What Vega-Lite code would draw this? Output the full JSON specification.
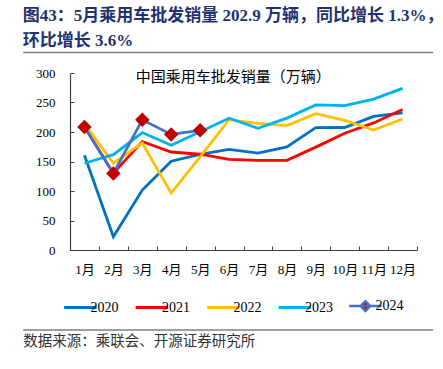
{
  "$schema": "https://vega.github.io/schema/vega-lite/v6.json",
  "padding": {"left": 22, "top": 7, "right": 11, "bottom": 4},
  "background": "white",
  "width": 347,
  "height": 177,
  "title": {"text": ["图43：5月乘用车批发销量 202.9 万辆，同比增长 1.3%，", "环比增长 3.6%"], "anchor": "start", "frame": "bounds", "font": "Liberation Serif, Noto Sans CJK SC", "fontSize": 17, "fontWeight": "bold", "color": "#1F3370", "lineHeight": 24.5, "offset": 2.5},
  "config": {"view": {"stroke": null}},
  "data": {"values": [
    {"year": "2020", "month": "1月", "value": 160.5}, {"year": "2020", "month": "2月", "value": 22.4}, {"year": "2020", "month": "3月", "value": 101.6}, {"year": "2020", "month": "4月", "value": 150.5}, {"year": "2020", "month": "5月", "value": 162.2}, {"year": "2020", "month": "6月", "value": 170.6}, {"year": "2020", "month": "7月", "value": 164.3}, {"year": "2020", "month": "8月", "value": 174.8}, {"year": "2020", "month": "9月", "value": 207.3}, {"year": "2020", "month": "10月", "value": 207.6}, {"year": "2020", "month": "11月", "value": 226.4}, {"year": "2020", "month": "12月", "value": 232.6},
    {"year": "2021", "month": "1月", "value": 208.9}, {"year": "2021", "month": "2月", "value": 130.0}, {"year": "2021", "month": "3月", "value": 183.8}, {"year": "2021", "month": "4月", "value": 166.1}, {"year": "2021", "month": "5月", "value": 162.3}, {"year": "2021", "month": "6月", "value": 153.6}, {"year": "2021", "month": "7月", "value": 151.8}, {"year": "2021", "month": "8月", "value": 152.0}, {"year": "2021", "month": "9月", "value": 174.4}, {"year": "2021", "month": "10月", "value": 198.0}, {"year": "2021", "month": "11月", "value": 215.4}, {"year": "2021", "month": "12月", "value": 238.0},
    {"year": "2022", "month": "1月", "value": 213.9}, {"year": "2022", "month": "2月", "value": 147.0}, {"year": "2022", "month": "3月", "value": 181.4}, {"year": "2022", "month": "4月", "value": 96.5}, {"year": "2022", "month": "5月", "value": 157.9}, {"year": "2022", "month": "6月", "value": 220.9}, {"year": "2022", "month": "7月", "value": 214.7}, {"year": "2022", "month": "8月", "value": 210.9}, {"year": "2022", "month": "9月", "value": 231.0}, {"year": "2022", "month": "10月", "value": 219.6}, {"year": "2022", "month": "11月", "value": 203.3}, {"year": "2022", "month": "12月", "value": 222.0},
    {"year": "2023", "month": "1月", "value": 147.0}, {"year": "2023", "month": "2月", "value": 161.6}, {"year": "2023", "month": "3月", "value": 199.0}, {"year": "2023", "month": "4月", "value": 177.6}, {"year": "2023", "month": "5月", "value": 200.3}, {"year": "2023", "month": "6月", "value": 223.4}, {"year": "2023", "month": "7月", "value": 206.4}, {"year": "2023", "month": "8月", "value": 223.5}, {"year": "2023", "month": "9月", "value": 245.9}, {"year": "2023", "month": "10月", "value": 244.6}, {"year": "2023", "month": "11月", "value": 255.7}, {"year": "2023", "month": "12月", "value": 274.0},
    {"year": "2024", "month": "1月", "value": 208.6}, {"year": "2024", "month": "2月", "value": 129.6}, {"year": "2024", "month": "3月", "value": 220.6}, {"year": "2024", "month": "4月", "value": 195.9}, {"year": "2024", "month": "5月", "value": 202.9}
  ]},
  "resolve": {"scale": {"x": "independent", "y": "independent"}, "axis": {"x": "independent", "y": "independent"}},
  "layer": [
    {
      "encoding": {
        "x": {"field": "month", "type": "ordinal", "sort": ["1月", "2月", "3月", "4月", "5月", "6月", "7月", "8月", "9月", "10月", "11月", "12月"], "bandPosition": 0.5,
              "scale": {"type": "band", "paddingInner": 0, "paddingOuter": 0},
              "axis": {"title": "数据来源：乘联会、开源证券研究所", "titleX": -47.3, "titleY": 91.5, "titleAlign": "left", "titleBaseline": "middle", "titleFont": "Noto Sans CJK SC", "titleFontSize": 14.5, "titleFontWeight": "normal", "titleColor": "#333333",
                       "labelAngle": 0, "tickBand": "extent", "tickSize": -4, "labelPadding": 17, "labelFont": "Liberation Serif, Noto Sans CJK SC", "labelFontSize": 13, "labelColor": "#000000", "domainColor": "#404040", "tickColor": "#404040", "domainWidth": 1.2, "grid": false}},
        "y": {"field": "value", "type": "quantitative", "scale": {"domain": [0, 300], "nice": false},
              "axis": {"title": "中国乘用车批发销量（万辆）", "titleAngle": 0, "titleX": 162.7, "titleY": 3.7, "titleAlign": "center", "titleBaseline": "middle", "titleFont": "Noto Sans CJK SC", "titleFontSize": 15, "titleFontWeight": "normal", "titleColor": "#000000",
                       "values": [0, 50, 100, 150, 200, 250, 300], "grid": false, "tickSize": -4, "labelPadding": 19, "labelFont": "Liberation Serif", "labelFontSize": 13, "labelColor": "#000000", "domainColor": "#404040", "tickColor": "#404040", "domainWidth": 1.2}}
      },
      "layer": [
        {
          "mark": {"type": "line", "strokeWidth": 2.8},
          "encoding": {
            "color": {"field": "year", "type": "nominal",
                      "scale": {"domain": ["2020", "2021", "2022", "2023", "2024"], "range": ["#0070C0", "#FF0000", "#FFC000", "#00B0F0", "#4472C4"]},
                      "legend": {"orient": "none", "legendX": 3.4, "legendY": 226, "direction": "horizontal", "title": null, "symbolType": "stroke", "symbolSize": 1056, "symbolStrokeWidth": 3, "labelFont": "Liberation Serif", "labelFontSize": 14, "labelColor": "#000000", "labelOffset": 3, "columnPadding": 10.5,
                                 "encode": {"symbols": {"update": {
                                   "shape": {"signal": "datum.value === '2024' ? 'M-1,0H1M-0.3,0L0,-0.3L0.3,0L0,0.3Z' : 'stroke'"},
                                   "fill": {"signal": "datum.value === '2024' ? '#C00000' : 'transparent'"},
                                   "strokeWidth": {"signal": "datum.value === '2024' ? 2.5 : 3"}
                                 }}}}}
          }
        },
        {
          "transform": [{"filter": "datum.year === '2024'"}],
          "mark": {"type": "point", "shape": "diamond", "filled": true, "size": 210, "color": "#C00000", "opacity": 1}
        }
      ]
    },
    {
      "mark": {"type": "point", "opacity": 0},
      "encoding": {
        "x": {"field": "month", "type": "ordinal", "sort": ["1月", "2月", "3月", "4月", "5月", "6月", "7月", "8月", "9月", "10月", "11月", "12月"],
              "scale": {"type": "band", "paddingInner": 0, "paddingOuter": 0, "range": [-47.3, 362.7]},
              "axis": {"orient": "top", "offset": 21, "domain": true, "domainColor": "#7F7F7F", "domainWidth": 1.3, "ticks": false, "labels": false, "title": null, "grid": false}},
        "y": {"field": "value", "type": "quantitative", "scale": {"domain": [0, 300], "nice": false}, "axis": null}
      }
    },
    {
      "mark": {"type": "point", "opacity": 0},
      "encoding": {
        "x": {"field": "month", "type": "ordinal", "sort": ["1月", "2月", "3月", "4月", "5月", "6月", "7月", "8月", "9月", "10月", "11月", "12月"],
              "scale": {"type": "band", "paddingInner": 0, "paddingOuter": 0, "range": [-47.3, 362.7]},
              "axis": {"orient": "bottom", "offset": 79.5, "domain": true, "domainColor": "#7F7F7F", "domainWidth": 1.3, "ticks": false, "labels": false, "title": null, "grid": false}},
        "y": {"field": "value", "type": "quantitative", "scale": {"domain": [0, 300], "nice": false}, "axis": null}
      }
    }
  ]
}
